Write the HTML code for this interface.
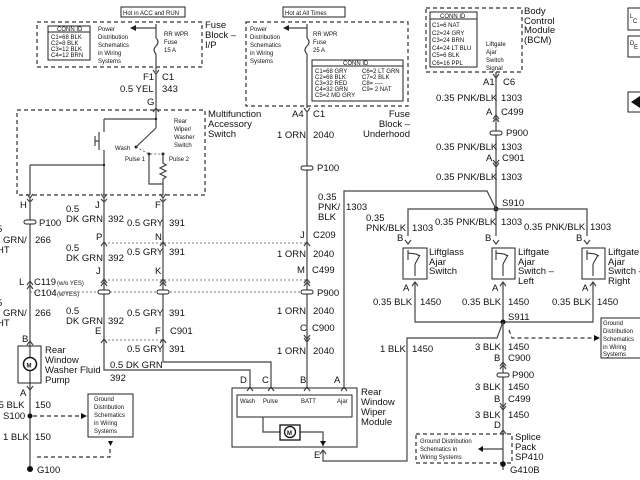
<!DOCTYPE html>
<html><head><meta charset="utf-8"><style>
html,body{margin:0;padding:0;background:#fff}
svg{display:block}
text{font-family:"Liberation Sans",Arial,sans-serif;fill:#111}
.t{font-size:9.5px}
.s{font-size:6px}
.w{stroke:#444;stroke-width:1.2;fill:none}
.d{stroke:#333;stroke-width:1.2;fill:none;stroke-dasharray:4,3}
.dd{stroke:#555;stroke-width:0.8;fill:none;stroke-dasharray:2,2}
.b{stroke:#222;stroke-width:1;fill:none}
</style></head><body>
<svg width="640" height="480" viewBox="0 0 640 480" xmlns="http://www.w3.org/2000/svg">
<!-- TOP I/P fuse block -->
<rect x="121" y="7" width="64" height="10" class="b"/>
<text x="123" y="15" class="s">Hot in ACC and RUN</text>
<rect x="37" y="22" width="165" height="45" class="d"/>
<rect x="48" y="26" width="42" height="34" class="b"/>
<line x1="48" y1="32" x2="90" y2="32" class="b"/>
<text x="57" y="31" class="s">CONN ID</text>
<text x="51" y="39" class="s">C1=68 BLK</text>
<text x="51" y="45" class="s">C2=8 BLK</text>
<text x="51" y="51" class="s">C3=12 BLK</text>
<text x="51" y="57" class="s">C4=12 BRN</text>
<text x="98" y="31" class="s">Power</text><text x="98" y="39" class="s">Distribution</text><text x="98" y="47" class="s">Schematics</text><text x="98" y="55" class="s">in Wiring</text><text x="98" y="63" class="s">Systems</text>
<text x="164" y="36" class="s">RR WPR</text><text x="164" y="44" class="s">Fuse</text><text x="164" y="52" class="s">15 A</text>
<text x="205" y="28" class="t">Fuse</text><text x="205" y="38" class="t">Block –</text><text x="205" y="48" class="t">I/P</text>
<line x1="156" y1="24" x2="156" y2="38" class="w"/>
<path d="M156 38 q4 4 0 8 q-4 4 0 8" class="w"/>
<line x1="156" y1="54" x2="156" y2="72" class="w"/>
<line x1="156" y1="28" x2="134" y2="28" class="w"/><polygon points="130,28 136,25 136,31" fill="#222"/>
<polyline points="153,70 156,74 159,70" class="w"/>
<text x="143" y="80" class="t">F1</text><text x="162" y="80" class="t">C1</text>
<line x1="156" y1="74" x2="156" y2="110" class="w"/>
<text x="120" y="92" class="t">0.5 YEL</text><text x="162" y="92" class="t">343</text>
<text x="147" y="105" class="t">G</text>
<polyline points="153,112 156,108 159,112" class="w"/>

<!-- Multifunction switch -->
<rect x="17" y="110" width="188" height="85" class="d"/>
<text x="208" y="117" class="t">Multifunction</text><text x="208" y="127" class="t">Accessory</text><text x="208" y="137" class="t">Switch</text>
<text x="174" y="123" class="s">Rear</text><text x="174" y="131" class="s">Wiper/</text><text x="174" y="139" class="s">Washer</text><text x="174" y="147" class="s">Switch</text>
<line x1="156" y1="110" x2="156" y2="128" class="w"/>
<line x1="156" y1="128" x2="136" y2="147" class="w"/>
<circle cx="136" cy="147" r="1.5" fill="#222"/>
<text x="115" y="150" class="s">Wash</text>
<line x1="156" y1="119" x2="104" y2="119" class="w"/>
<line x1="104" y1="119" x2="104" y2="132" class="w"/>
<line x1="104" y1="150" x2="104" y2="195" class="w"/>
<line x1="99" y1="132" x2="99" y2="150" class="w"/><line x1="95" y1="141" x2="99" y2="141" class="w"/><line x1="95" y1="136" x2="95" y2="146" class="w"/>
<line x1="104" y1="165" x2="30" y2="165" class="w"/><line x1="30" y1="165" x2="30" y2="195" class="w"/>
<circle cx="104" cy="165" r="1.2" fill="#222"/><circle cx="156" cy="119" r="1.2" fill="#222"/>
<polyline points="136,147 149,154 163,154" class="dd"/>
<circle cx="149" cy="154" r="1.5" fill="#222"/><circle cx="163" cy="154" r="1.5" fill="#222"/>
<text x="125" y="161" class="s">Pulse 1</text><text x="169" y="161" class="s">Pulse 2</text>
<polyline points="149,154 149,184 163,184" class="w"/>
<polyline points="163,154 163,163 166,165 160,168 166,171 160,174 166,177 163,179 163,195" class="w"/>

<!-- Underhood fuse block -->
<rect x="283" y="7" width="62" height="10" class="b"/>
<text x="285" y="15" class="s">Hot at All Times</text>
<rect x="246" y="22" width="162" height="84" class="d"/>
<text x="250" y="31" class="s">Power</text><text x="250" y="39" class="s">Distribution</text><text x="250" y="47" class="s">Schematics</text><text x="250" y="55" class="s">in Wiring</text><text x="250" y="63" class="s">Systems</text>
<line x1="307" y1="24" x2="307" y2="38" class="w"/>
<path d="M307 38 q4 4 0 8 q-4 4 0 8" class="w"/>
<line x1="307" y1="54" x2="307" y2="108" class="w"/>
<line x1="307" y1="28" x2="287" y2="28" class="w"/><polygon points="283,28 289,25 289,31" fill="#222"/>
<text x="313" y="36" class="s">RR WPR</text><text x="313" y="44" class="s">Fuse</text><text x="313" y="52" class="s">25 A</text>
<rect x="312" y="60" width="91" height="41" class="b"/><line x1="312" y1="66" x2="403" y2="66" class="b"/>
<text x="343" y="65" class="s">CONN ID</text>
<text x="315" y="73" class="s">C1=68 GRY</text><text x="315" y="79" class="s">C2=68 BLK</text><text x="315" y="85" class="s">C3=32 RED</text><text x="315" y="91" class="s">C4=32 GRN</text><text x="315" y="97" class="s">C5=2 MD GRY</text>
<text x="362" y="73" class="s">C6=2 LT GRN</text><text x="362" y="79" class="s">C7=2 BLK</text><text x="362" y="85" class="s">C8= ----</text><text x="362" y="91" class="s">C9= 2 NAT</text>
<text x="410" y="117" class="t" text-anchor="end">Fuse</text><text x="410" y="127" class="t" text-anchor="end">Block –</text><text x="410" y="137" class="t" text-anchor="end">Underhood</text>
<polyline points="304,108 307,112 310,108" class="w"/>
<text x="292" y="117" class="t">A4</text><text x="313" y="117" class="t">C1</text>
<text x="277" y="138" class="t">1 ORN</text><text x="313" y="138" class="t">2040</text>

<!-- BCM -->
<rect x="426" y="8" width="96" height="64" class="d"/>
<rect x="430" y="12" width="47" height="55" class="b"/><line x1="430" y1="19" x2="477" y2="19" class="b"/>
<text x="440" y="18" class="s">CONN ID</text>
<text x="432" y="27" class="s">C1=6 NAT</text><text x="432" y="35" class="s">C2=24 GRY</text><text x="432" y="42" class="s">C3=24 BRN</text><text x="432" y="50" class="s">C4=24 LT BLU</text><text x="432" y="57" class="s">C5=6 BLK</text><text x="432" y="65" class="s">C6=16 PPL</text>
<text x="486" y="46" class="s">Liftgate</text><text x="486" y="54" class="s">Ajar</text><text x="486" y="62" class="s">Switch</text><text x="486" y="70" class="s">Signal</text>
<text x="524" y="14" class="t">Body</text><text x="524" y="24" class="t">Control</text><text x="524" y="33" class="t">Module</text><text x="524" y="43" class="t">(BCM)</text>
<rect x="628" y="8" width="14" height="22" class="b"/><text x="630" y="18" class="s">L</text><text x="633" y="23" class="s">C</text>
<rect x="628" y="36" width="14" height="21" class="b"/><text x="630" y="45" class="s">D</text><text x="634" y="49" class="s">E</text>
<rect x="628" y="92" width="14" height="20" class="b"/><polygon points="631,102 640,96 640,108" fill="#111"/>

<!-- PNK/BLK column -->
<line x1="496" y1="72" x2="496" y2="209" class="w"/>
<polyline points="493,74 496,78 499,74" class="w"/>
<text x="483" y="85" class="t">A1</text><text x="503" y="85" class="t">C6</text>
<text x="436" y="101" class="t">0.35 PNK/BLK</text><text x="501" y="101" class="t">1303</text>
<text x="486" y="115" class="t">A</text><text x="501" y="115" class="t">C499</text>
<polyline points="493,119 496,115 499,119" class="w"/><polyline points="493,122 496,118 499,122" class="w"/>
<rect x="490" y="131" width="12" height="4" rx="2" fill="#fff" stroke="#222"/>
<text x="506" y="136" class="t">P900</text>
<text x="436" y="150" class="t">0.35 PNK/BLK</text><text x="501" y="150" class="t">1303</text>
<text x="486" y="161" class="t">A</text><text x="502" y="161" class="t">C901</text>
<polyline points="493,160 496,164 499,160" class="w"/><polyline points="493,163 496,167 499,163" class="w"/>
<text x="436" y="180" class="t">0.35 PNK/BLK</text><text x="501" y="180" class="t">1303</text>
<text x="502" y="206" class="t">S910</text>
<circle cx="496" cy="209" r="2.5" fill="#111"/>
<polyline points="496,209 487,191 344,191 344,388" class="w"/>
<polyline points="408,236 408,209 587,209 587,236" class="w"/>
<line x1="496" y1="209" x2="496" y2="236" class="w"/>
<text x="318" y="200" class="t">0.35</text><text x="318" y="210" class="t">PNK/</text><text x="318" y="220" class="t">BLK</text><text x="346" y="210" class="t">1303</text>
<text x="366" y="221" class="t">0.35</text><text x="366" y="231" class="t">PNK/BLK</text><text x="412" y="231" class="t">1303</text>
<text x="435" y="225" class="t">0.35 PNK/BLK</text><text x="501" y="225" class="t">1303</text>
<text x="524" y="230" class="t">0.35 PNK/BLK</text><text x="590" y="230" class="t">1303</text>

<!-- Ajar switches -->
<g>
<text x="397" y="241" class="t">B</text><text x="485" y="241" class="t">B</text><text x="576" y="241" class="t">B</text>
<polyline points="405,240 408,244 411,240" class="w"/><polyline points="493,240 496,244 499,240" class="w"/><polyline points="584,240 587,244 590,240" class="w"/>
<rect x="403" y="248" width="24" height="31" class="b" stroke-width="1.4"/>
<rect x="492" y="248" width="23" height="31" class="b" stroke-width="1.4"/>
<rect x="582" y="248" width="23" height="31" class="b" stroke-width="1.4"/>
<path d="M408 250v10M415 264l5-9M415 264v12M408 253l8 1 4 2" class="b"/>
<path d="M496 250v10M503 264l5-9M503 264v12M496 253l8 1 4 2" class="b"/>
<path d="M587 250v10M593 264l5-9M593 264v12M587 253l8 1 4 2" class="b"/>
<text x="429" y="255" class="t">Liftglass</text><text x="429" y="265" class="t">Ajar</text><text x="429" y="274" class="t">Switch</text>
<text x="518" y="255" class="t">Liftgate</text><text x="518" y="265" class="t">Ajar</text><text x="518" y="274" class="t">Switch –</text><text x="518" y="284" class="t">Left</text>
<text x="608" y="255" class="t">Liftgate</text><text x="608" y="265" class="t">Ajar</text><text x="608" y="274" class="t">Switch –</text><text x="608" y="284" class="t">Right</text>
<text x="403" y="291" class="t">A</text><text x="492" y="291" class="t">A</text><text x="582" y="291" class="t">A</text>
<polyline points="412,286 415,282 418,286" class="w"/><polyline points="500,286 503,282 506,286" class="w"/><polyline points="590,286 593,282 596,286" class="w"/>
<polyline points="415,282 415,322 593,322 593,282" class="w"/>
<line x1="503" y1="282" x2="503" y2="322" class="w"/>
<text x="373" y="305" class="t">0.35 BLK</text><text x="420" y="305" class="t">1450</text>
<text x="462" y="305" class="t">0.35 BLK</text><text x="508" y="305" class="t">1450</text>
<text x="552" y="305" class="t">0.35 BLK</text><text x="597" y="305" class="t">1450</text>
</g>
<circle cx="503" cy="322" r="2.5" fill="#111"/>
<text x="508" y="320" class="t">S911</text>
<polyline points="503,322 497,338 407,338 407,461 323,461 323,450" class="w"/>
<polyline points="320,454 323,450 326,454" class="w"/>
<line x1="503" y1="322" x2="503" y2="470" class="w"/>
<polyline points="509,330 512,338 596,338" class="d" stroke-width="0.9"/>
<polygon points="600,338 594,335 594,341" fill="#111"/>
<rect x="601" y="318" width="42" height="40" class="b"/>
<text x="603" y="325" class="s">Ground</text><text x="603" y="333" class="s">Distribution</text><text x="603" y="341" class="s">Schematics</text><text x="603" y="349" class="s">in Wiring</text><text x="603" y="356" class="s">Systems</text>
<text x="380" y="352" class="t">1 BLK</text><text x="412" y="352" class="t">1450</text>
<text x="475" y="350" class="t">3 BLK</text><text x="508" y="350" class="t">1450</text>
<text x="494" y="361" class="t">B</text><text x="508" y="361" class="t">C900</text>
<polyline points="500,366 503,362 506,366" class="w"/><polyline points="500,369 503,365 506,369" class="w"/>
<rect x="497" y="373" width="12" height="4" rx="2" fill="#fff" stroke="#222"/>
<text x="512" y="378" class="t">P900</text>
<text x="475" y="390" class="t">3 BLK</text><text x="508" y="390" class="t">1450</text>
<text x="494" y="402" class="t">B</text><text x="508" y="402" class="t">C499</text>
<polyline points="500,403 503,407 506,403" class="w"/><polyline points="500,406 503,410 506,406" class="w"/>
<text x="475" y="418" class="t">3 BLK</text><text x="508" y="418" class="t">1450</text>
<text x="494" y="428" class="t">D</text>
<polyline points="500,434 503,430 506,434" class="w"/>
<rect x="416" y="434" width="96" height="29" class="d"/>
<text x="420" y="443" class="s">Ground Distribution</text><text x="420" y="451" class="s">Schematics in</text><text x="420" y="459" class="s">Wiring Systems</text>
<line x1="503" y1="449" x2="480" y2="449" class="w"/><polygon points="478,449 483,446 483,452" fill="#111"/>
<circle cx="503" cy="464" r="2.8" fill="#111"/>
<text x="515" y="440" class="t">Splice</text><text x="515" y="450" class="t">Pack</text><text x="515" y="460" class="t">SP410</text>
<text x="510" y="473" class="t">G410B</text>

<!-- ORN column -->
<line x1="307" y1="112" x2="307" y2="388" class="w"/>
<rect x="301" y="166" width="12" height="4" rx="2" fill="#fff" stroke="#222"/>
<text x="317" y="171" class="t">P100</text>
<text x="300" y="238" class="t">J</text><text x="313" y="238" class="t">C209</text>
<text x="277" y="257" class="t">1 ORN</text><text x="313" y="257" class="t">2040</text>
<text x="297" y="273" class="t">M</text><text x="312" y="273" class="t">C499</text>
<text x="277" y="314" class="t">1 ORN</text><text x="313" y="314" class="t">2040</text>
<text x="300" y="331" class="t">C</text><text x="312" y="331" class="t">C900</text>
<text x="277" y="354" class="t">1 ORN</text><text x="313" y="354" class="t">2040</text>

<!-- Left columns -->
<polyline points="27,194 30,198 33,194" class="w"/><polyline points="101,194 104,198 107,194" class="w"/><polyline points="160,194 163,198 166,194" class="w"/>
<polyline points="27,199 30,202 33,199" class="w"/><polyline points="101,199 104,202 107,199" class="w"/><polyline points="160,199 163,202 166,199" class="w"/>
<line x1="30" y1="198" x2="30" y2="470" class="w"/>
<polyline points="104,198 104,370 250,370 250,388" class="w"/>
<polyline points="163,198 163,362 271,362 271,388" class="w"/>
<text x="20" y="208" class="t">H</text><text x="95" y="208" class="t">J</text><text x="155" y="208" class="t">F</text>
<rect x="24" y="220" width="12" height="4" rx="2" fill="#fff" stroke="#222"/>
<text x="39" y="226" class="t">P100</text>
<text x="-3" y="232" class="t">5</text><text x="-6" y="243" class="t">K GRN/</text><text x="-3" y="253" class="t">HT</text><text x="35" y="243" class="t">266</text>
<text x="66" y="212" class="t">0.5</text><text x="66" y="222" class="t">DK GRN</text><text x="108" y="222" class="t">392</text>
<text x="127" y="226" class="t">0.5 GRY</text><text x="169" y="226" class="t">391</text>
<text x="96" y="240" class="t">P</text><text x="155" y="240" class="t">N</text>
<text x="66" y="251" class="t">0.5</text><text x="66" y="261" class="t">DK GRN</text><text x="108" y="261" class="t">392</text>
<text x="127" y="255" class="t">0.5 GRY</text><text x="169" y="255" class="t">391</text>
<text x="96" y="274" class="t">J</text><text x="155" y="274" class="t">K</text>
<text x="19" y="285" class="t">L</text><text x="34" y="285" class="t">C119</text><text x="57" y="285" class="s">(w/o YES)</text>
<text x="34" y="296" class="t">C104</text><text x="57" y="296" class="s">(w/YES)</text>
<text x="-3" y="306" class="t">5</text><text x="-6" y="316" class="t">K GRN/</text><text x="-3" y="326" class="t">HT</text><text x="35" y="316" class="t">266</text>
<text x="66" y="314" class="t">0.5</text><text x="66" y="324" class="t">DK GRN</text><text x="108" y="324" class="t">392</text>
<text x="127" y="316" class="t">0.5 GRY</text><text x="169" y="316" class="t">391</text>
<text x="95" y="334" class="t">E</text><text x="155" y="334" class="t">F</text><text x="170" y="334" class="t">C901</text>
<text x="127" y="352" class="t">0.5 GRY</text><text x="169" y="352" class="t">391</text>
<text x="110" y="368" class="t">0.5 DK GRN</text><text x="110" y="381" class="t">392</text>
<!-- dashed connector lines -->
<line x1="104" y1="243" x2="307" y2="243" class="dd"/>
<line x1="104" y1="280" x2="307" y2="280" class="dd"/>
<line x1="30" y1="292" x2="307" y2="292" class="dd"/>
<line x1="104" y1="340" x2="163" y2="340" class="dd"/>
<!-- connector chevrons -->
<g>
<polyline points="101,246 104,242 107,246" class="w"/><polyline points="160,246 163,242 166,246" class="w"/><polyline points="304,246 307,242 310,246" class="w"/>
<polyline points="101,283 104,279 107,283" class="w"/><polyline points="160,283 163,279 166,283" class="w"/><polyline points="304,283 307,279 310,283" class="w"/>
<polyline points="101,286 104,282 107,286" class="w"/><polyline points="160,286 163,282 166,286" class="w"/><polyline points="304,286 307,282 310,286" class="w"/>
<polyline points="27,285 30,281 33,285" class="w"/><polyline points="27,289 30,285 33,289" class="w"/>
<rect x="98" y="290" width="12" height="4" rx="2" fill="#fff" stroke="#222"/>
<rect x="157" y="290" width="12" height="4" rx="2" fill="#fff" stroke="#222"/>
<rect x="301" y="290" width="12" height="4" rx="2" fill="#fff" stroke="#222"/>
<text x="317" y="296" class="t">P900</text>
<polyline points="101,343 104,339 107,343" class="w"/><polyline points="160,343 163,339 166,343" class="w"/>
<polyline points="304,335 307,339 310,335" class="w"/><polyline points="304,338 307,342 310,338" class="w"/>
</g>
<!-- Pump -->
<text x="22" y="342" class="t">B</text>
<polyline points="27,345 30,341 33,345" class="w"/>
<rect x="18" y="346" width="23" height="37" class="b" stroke-width="1.4"/>
<circle cx="30" cy="364" r="6.5" fill="#fff" stroke="#111" stroke-width="1.5"/>
<text x="26.5" y="367.5" class="s" font-weight="bold">M</text>
<text x="45" y="353" class="t">Rear</text><text x="45" y="363" class="t">Window</text><text x="45" y="373" class="t">Washer Fluid</text><text x="45" y="383" class="t">Pump</text>
<text x="20" y="396" class="t">A</text>
<polyline points="27,386 30,390 33,386" class="w"/>
<text x="-4" y="408" class="t">.5 BLK</text><text x="35" y="408" class="t">150</text>
<text x="3" y="419" class="t">S100</text><circle cx="30" cy="416" r="2.5" fill="#111"/>
<line x1="33" y1="416" x2="82" y2="416" class="d" stroke-width="0.9"/>
<polygon points="87,416 81,413 81,419" fill="#111"/>
<rect x="88" y="394" width="45" height="43" class="b"/>
<text x="94" y="401" class="s">Ground</text><text x="94" y="409" class="s">Distribution</text><text x="94" y="417" class="s">Schematics</text><text x="94" y="425" class="s">in Wiring</text><text x="94" y="433" class="s">Systems</text>
<polygon points="108,441 113,441 110.5,446" fill="#111"/>
<polyline points="110,449 110,457 35,457" class="d" stroke-width="0.9"/>
<text x="3" y="440" class="t">1 BLK</text><text x="35" y="440" class="t">150</text>
<circle cx="30" cy="469" r="3" fill="#111"/>
<text x="37" y="473" class="t">G100</text>

<!-- Wiper module -->
<text x="240" y="383" class="t">D</text><text x="262" y="383" class="t">C</text><text x="300" y="383" class="t">B</text><text x="334" y="383" class="t">A</text>
<polyline points="247,391 250,387 253,391" class="w"/><polyline points="268,391 271,387 274,391" class="w"/><polyline points="304,391 307,387 310,391" class="w"/><polyline points="341,391 344,387 347,391" class="w"/>
<rect x="232" y="388" width="125" height="59" class="b" stroke-width="1.3"/>
<rect x="237" y="395" width="115" height="22" class="b"/>
<text x="240" y="403" class="s">Wash</text><text x="263" y="403" class="s">Pulse</text><text x="301" y="403" class="s">BATT</text><text x="337" y="403" class="s">Ajar</text>
<polyline points="263,417 263,432 280,432" class="w"/><polyline points="300,432 323,432 323,446" class="w"/>
<polygon points="320,441 326,441 323,446" fill="#111"/>
<rect x="280" y="425" width="20" height="15" fill="#fff" stroke="#111" stroke-width="1.3"/>
<circle cx="290" cy="432" r="5.5" fill="#fff" stroke="#111" stroke-width="1.3"/>
<text x="287" y="435" class="s" font-weight="bold">M</text>
<text x="361" y="395" class="t">Rear</text><text x="361" y="405" class="t">Window</text><text x="361" y="415" class="t">Wiper</text><text x="361" y="425" class="t">Module</text>
<text x="314" y="458" class="t">E</text>
</svg>
</body></html>
